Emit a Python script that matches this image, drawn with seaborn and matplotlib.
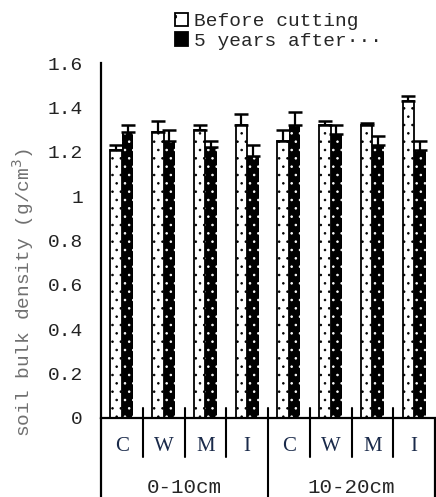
import pandas as pd
import matplotlib
matplotlib.use("Agg")
import matplotlib.pyplot as plt
from matplotlib.patches import Patch
import seaborn as sns

# data
depths = ["0-10cm", "10-20cm"]
treatments = ["C", "W", "M", "I"]
periods = ["Before cutting", "5 years after\u00b7\u00b7\u00b7"]
before_mean = [1.21, 1.29, 1.30, 1.32, 1.25, 1.32, 1.32, 1.43]
before_err = [0.02, 0.05, 0.02, 0.05, 0.05, 0.02, 0.01, 0.02]
after_mean = [1.29, 1.25, 1.22, 1.18, 1.32, 1.28, 1.23, 1.21]
after_err = [0.03, 0.05, 0.03, 0.05, 0.06, 0.04, 0.04, 0.04]
ytick_vals = [0, 0.2, 0.4, 0.6, 0.8, 1.0, 1.2, 1.4, 1.6]
ytick_labels = ["0", "0.2", "0.4", "0.6", "0.8", "1", "1.2", "1.4", "1.6"]

slots = [f"{d}|{t}" for d in depths for t in treatments]
rows = []
for i, s in enumerate(slots):
    rows.append({"slot": s, "period": periods[0], "density": before_mean[i]})
    rows.append({"slot": s, "period": periods[1], "density": after_mean[i]})
df = pd.DataFrame(rows)

sns.set_style("white")
plt.rcParams["font.family"] = ["Liberation Mono", "DejaVu Sans Mono"]
plt.rcParams["hatch.linewidth"] = 0.6

fig = plt.figure(figsize=(4.36, 4.97), dpi=100)
ax = fig.add_axes([101 / 436, 79 / 497, 334 / 436, 355 / 497])

sns.barplot(data=df, x="slot", y="density", hue="period", order=slots,
            hue_order=periods, palette={periods[0]: "white", periods[1]: "black"},
            saturation=1, width=0.55, errorbar=None, legend=False, ax=ax)

errs = [before_err, after_err]
bar_groups = list(ax.containers)[:2]
for k, cont in enumerate(bar_groups):
    xs, tops = [], []
    for bar in cont:
        if k == 0:
            bar.set_facecolor("white")
            bar.set_edgecolor("black")
            bar.set_linewidth(1.3)
            bar.set_hatch("..")
        else:
            bar.set_facecolor("black")
            bar.set_edgecolor("white")
            bar.set_linewidth(0)
            bar.set_hatch("..")
        xs.append(bar.get_x() + bar.get_width() / 2)
        tops.append(bar.get_height())
    ax.errorbar(xs, tops, yerr=[[0] * len(xs), errs[k]], fmt="none",
                ecolor="black", elinewidth=1.6, capsize=5, capthick=1.8, zorder=5)

ax.set_xlim(-0.5, 7.5)
ax.set_ylim(0, 1.6)
ax.set_yticks(ytick_vals)
ax.set_yticklabels(ytick_labels)
ax.tick_params(axis="y", direction="in", length=6, width=1.5, pad=13,
               labelsize=14, colors="#222222")
ax.tick_params(axis="x", length=0, labelbottom=False)
ax.set_xlabel("")
ax.set_ylabel("")
for side in ["top", "right"]:
    ax.spines[side].set_visible(False)
for side in ["left", "bottom"]:
    ax.spines[side].set_linewidth(1.6)
    ax.spines[side].set_color("black")

# category table under the axis
tr = ax.get_xaxis_transform()
bottom = -79 / 355
for i in range(7):
    xpos = i + 0.5
    if i == 3:
        ax.plot([xpos, xpos], [0.028, bottom], color="black", lw=1.5,
                transform=tr, clip_on=False)
    else:
        ax.plot([xpos, xpos], [0.028, -0.11], color="black", lw=1.5,
                transform=tr, clip_on=False)
for xpos in [-0.5, 7.5]:
    ax.plot([xpos, xpos], [0, bottom], color="black", lw=1.6,
            transform=tr, clip_on=False)
for i, s in enumerate(slots):
    ax.text(i, -0.079, s.split("|")[1], transform=tr, ha="center", va="center",
            fontsize=15, color="#1a2a4a", family=["Liberation Serif", "DejaVu Serif"],
            clip_on=False)
for j, d in enumerate(depths):
    ax.text(1.5 + 4 * j, -0.197, d, transform=tr, ha="center", va="center",
            fontsize=15, clip_on=False)

fig.text(23 / 436, 1 - 293 / 497, "soil bulk density (g/cm$^3$)", rotation=90,
         ha="center", va="center", fontsize=14, color="#707070")

handles = [Patch(facecolor="white", edgecolor="black", hatch=".", linewidth=1.3),
           Patch(facecolor="black", edgecolor="black", linewidth=1.3)]
fig.legend(handles, periods, loc="upper left", bbox_to_anchor=(162 / 436, 1.0),
           frameon=False, fontsize=14, handlelength=0.7, handleheight=0.7,
           handletextpad=0.3, labelspacing=0.1, borderaxespad=0.25)

fig.savefig("out.png", dpi=100)
